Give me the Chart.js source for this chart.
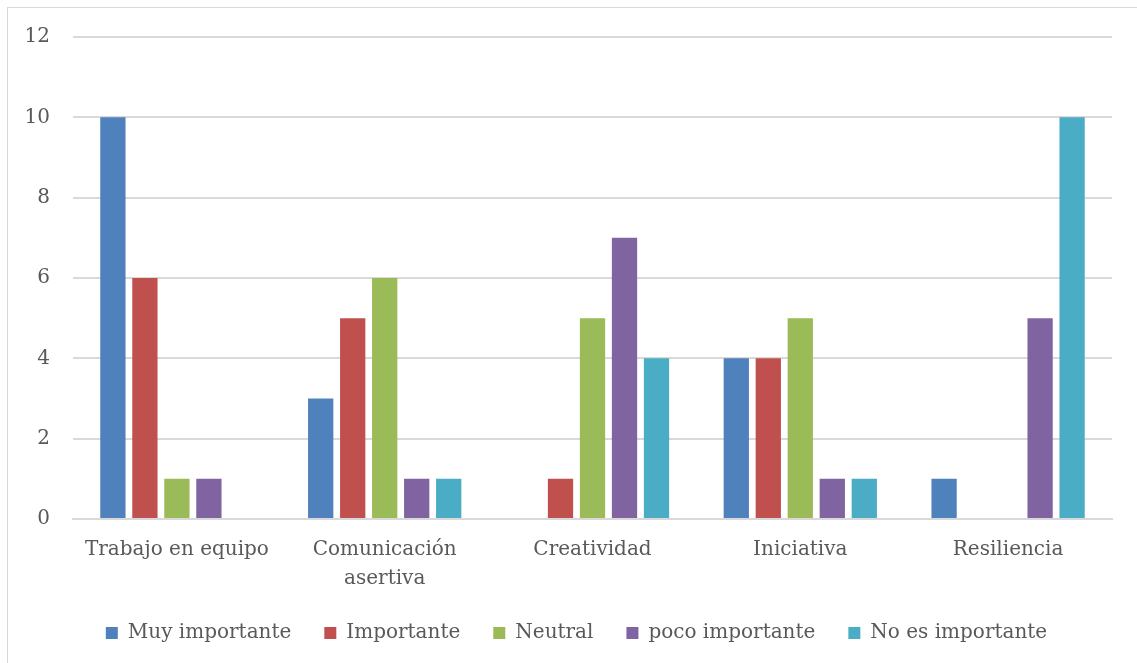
<!DOCTYPE html>
<html>
<head>
<meta charset="utf-8">
<script src="https://cdn.jsdelivr.net/npm/chart.js@4.4.0/dist/chart.umd.min.js"></script>
<style>
  body { margin: 0; background: #fff; }
  #box {
    position: absolute; left: 7px; top: 7px; width: 1140px; height: 670px;
    border: 1px solid #d9d9d9; box-sizing: border-box;
  }
  #wrap { position: absolute; left: 0; top: 0; width: 1137px; height: 663px; }
</style>
</head>
<body>
<div id="box"></div>
<div id="wrap"><canvas id="skillsChart"></canvas></div>
<script>
// categories and series
const categories = ['Trabajo en equipo', ['Comunicación', 'asertiva'], 'Creatividad', 'Iniciativa', 'Resiliencia'];
const seriesNames = ['Muy importante', 'Importante', 'Neutral', 'poco importante', 'No es importante'];
const muyImportante = [10, 3, 0, 4, 1];
const importante = [6, 5, 1, 4, 0];
const neutral = [1, 6, 5, 5, 0];
const pocoImportante = [1, 1, 7, 1, 5];
const noEsImportante = [0, 1, 4, 1, 10];
const yTicks = [0, 2, 4, 6, 8, 10, 12];

const colors = ['#4f81bd', '#c0504d', '#9bbb59', '#8064a2', '#4bacc6'];
const seriesValues = [muyImportante, importante, neutral, pocoImportante, noEsImportante];

const fontFamily = '"DejaVu Serif", serif';
const legendTrim = 19;   // space taken off the top of the legend box
const legendShiftX = 9;  // legend sits a little right of centre

let datasets = [];
seriesValues.forEach((vals, i) => {
    datasets.push({
        label: seriesNames[i],
        data: vals,
        backgroundColor: colors[i],
        borderWidth: 0,
        categoryPercentage: 0.77,
        barPercentage: 0.79
    });
});

// legend padding is both the gap between items and above them,
// so take some of the upper gap back and draw the items where they were
const legendFitPlugin = {
    id: 'legendFit',
    beforeInit(chart) {
        const lg = chart.legend;
        const origFit = lg.fit;
        const origDraw = lg.draw;
        lg.fit = function () {
            origFit.call(this);
            this.height -= legendTrim;
        };
        lg.draw = function () {
            const c = this.ctx;
            c.save();
            c.translate(legendShiftX, 0);
            this.top -= legendTrim;
            origDraw.call(this);
            this.top += legendTrim;
            c.restore();
        };
    }
};

let ctx = document.getElementById('skillsChart').getContext('2d');
new Chart(ctx, {
    type: 'bar',
    data: { labels: categories, datasets: datasets },
    plugins: [legendFitPlugin],
    options: {
        responsive: true,
        maintainAspectRatio: false,
        animation: false,
        layout: { padding: { top: 37, right: 25, left: 23, bottom: 10 } },
        scales: {
            x: {
                grid: { display: false, drawTicks: false },
                border: { display: true, color: '#d9d9d9', width: 2 },
                afterFit: (axis) => { axis.paddingLeft = 0; axis.paddingRight = 0; },
                ticks: {
                    color: '#595959',
                    font: { family: fontFamily, size: 20, lineHeight: 1.45 },
                    padding: 16,
                    maxRotation: 0,
                    autoSkip: false
                }
            },
            y: {
                min: 0,
                max: 12,
                afterBuildTicks: (axis) => { axis.ticks = yTicks.map(v => ({ value: v })); },
                afterFit: (axis) => {
                    axis.width = 50;
                    axis.paddingTop = 0;
                    axis.paddingBottom = 0;
                },
                grid: { color: '#d9d9d9', lineWidth: 2, drawTicks: false },
                border: { display: false },
                ticks: {
                    color: '#595959',
                    font: { family: fontFamily, size: 20 },
                    padding: 23
                }
            }
        },
        plugins: {
            legend: {
                position: 'bottom',
                labels: {
                    color: '#595959',
                    font: { family: fontFamily, size: 20 },
                    boxWidth: 12,
                    boxHeight: 12,
                    padding: 33
                }
            },
            tooltip: { enabled: false }
        }
    }
});
</script>
</body>
</html>
